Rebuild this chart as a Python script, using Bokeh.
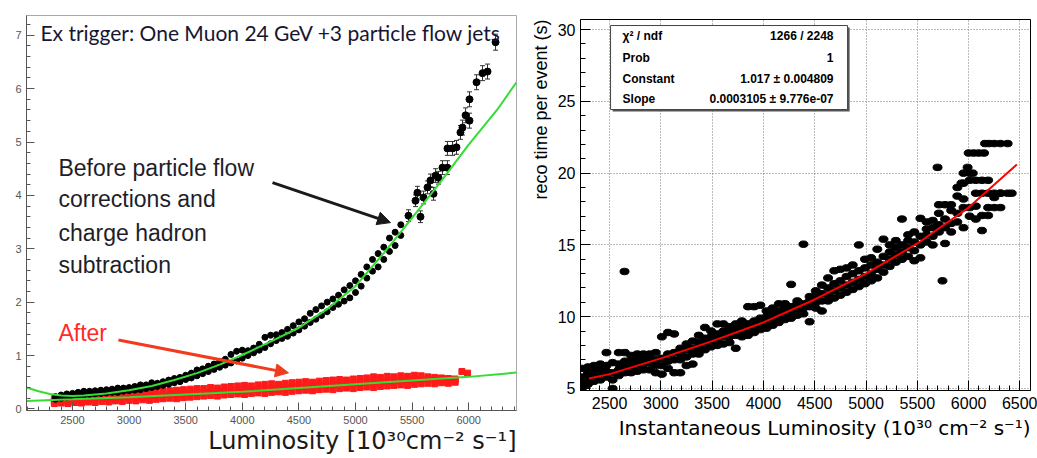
import math
from bokeh.plotting import figure
from bokeh.layouts import row
from bokeh.models import Range1d, Label, Arrow, NormalHead, FixedTicker, Title
from bokeh.embed import file_html
from bokeh.resources import INLINE

# ------------------------------------------------------------------ left panel data
left_x_ticks = [2500, 3000, 3500, 4000, 4500, 5000, 5500, 6000]
left_y_ticks = [0, 1, 2, 3, 4, 5, 6, 7]

# dense "before" band (two estimated edges per luminosity bin)
black_lumi = [2350, 2400, 2450, 2500, 2550, 2600, 2650, 2700, 2750, 2800,
              2850, 2900, 2950, 3000, 3050, 3100, 3150, 3200, 3250, 3300,
              3350, 3400, 3450, 3500, 3550, 3600, 3650, 3700, 3750, 3800,
              3850, 3900, 3950, 4000, 4050, 4100, 4150, 4200, 4250, 4300,
              4350, 4400, 4450, 4500, 4550, 4600, 4650, 4700, 4750, 4800,
              4850, 4900, 4950, 5000, 5050, 5100, 5150, 5200, 5250, 5300,
              5350, 5400]
black_time_low = [0.18, 0.20, 0.22, 0.24, 0.25, 0.26, 0.27, 0.28, 0.29, 0.30,
                  0.31, 0.31, 0.33, 0.34, 0.35, 0.36, 0.38, 0.40, 0.42, 0.44,
                  0.46, 0.49, 0.51, 0.55, 0.58, 0.62, 0.66, 0.70, 0.74, 0.78,
                  0.82, 0.86, 0.90, 0.95, 1.00, 1.05, 1.10, 1.15, 1.22, 1.28,
                  1.32, 1.36, 1.42, 1.48, 1.55, 1.62, 1.68, 1.75, 1.82, 1.90,
                  1.96, 2.02, 2.08, 2.18, 2.30, 2.45, 2.58, 2.66, 2.80, 2.95,
                  3.06, 3.25]
black_time_high = [0.23, 0.26, 0.28, 0.29, 0.31, 0.33, 0.33, 0.34, 0.35, 0.36,
                   0.37, 0.39, 0.39, 0.40, 0.42, 0.45, 0.45, 0.49, 0.48, 0.51,
                   0.54, 0.57, 0.59, 0.63, 0.67, 0.73, 0.75, 0.80, 0.84, 0.89,
                   0.93, 1.02, 1.08, 1.10, 1.09, 1.14, 1.21, 1.34, 1.38, 1.39,
                   1.43, 1.49, 1.56, 1.63, 1.69, 1.79, 1.86, 1.93, 2.00, 2.06,
                   2.13, 2.23, 2.31, 2.40, 2.52, 2.66, 2.80, 2.91, 3.03, 3.20,
                   3.31, 3.45]
black_band_err = 0.05

# separated high-luminosity "before" points with error bars
high_lumi = [5468, 5530, 5547, 5574, 5601, 5636, 5662, 5689, 5707, 5733, 5768, 5812,
             5812, 5857, 5892, 5927, 5945, 5972, 6007, 6007, 6069, 6122, 6166, 6237]
high_time = [3.62, 3.90, 4.05, 3.60, 3.96, 4.15, 4.28, 4.03, 4.37, 4.33, 4.52, 4.52,
             4.88, 4.88, 4.90, 5.18, 5.27, 5.50, 5.40, 5.80, 6.12, 6.29, 6.32, 6.87]
high_err = [0.11, 0.11, 0.12, 0.11, 0.12, 0.12, 0.12, 0.12, 0.13, 0.12, 0.13, 0.13,
            0.13, 0.13, 0.13, 0.13, 0.14, 0.14, 0.14, 0.14, 0.14, 0.14, 0.14, 0.15]

# "after" band (three estimated values per luminosity bin)
red_lumi = [2340, 2400, 2460, 2520, 2580, 2640, 2700, 2760, 2820, 2880,
            2940, 3000, 3060, 3120, 3180, 3240, 3300, 3360, 3420, 3480,
            3540, 3600, 3660, 3720, 3780, 3840, 3900, 3960, 4020, 4080,
            4140, 4200, 4260, 4320, 4380, 4440, 4500, 4560, 4620, 4680,
            4740, 4800, 4860, 4920, 4980, 5040, 5100, 5160, 5220, 5280,
            5340, 5400, 5460, 5520, 5580, 5640, 5700, 5760, 5820, 5880]
red_time_a = [0.10, 0.11, 0.10, 0.12, 0.11, 0.13, 0.12, 0.14, 0.13, 0.15,
              0.14, 0.16, 0.15, 0.17, 0.16, 0.18, 0.19, 0.20, 0.19, 0.21,
              0.22, 0.23, 0.24, 0.25, 0.24, 0.26, 0.27, 0.28, 0.27, 0.29,
              0.30, 0.29, 0.31, 0.32, 0.31, 0.33, 0.34, 0.35, 0.34, 0.36,
              0.37, 0.36, 0.38, 0.39, 0.38, 0.40, 0.41, 0.40, 0.42, 0.43,
              0.44, 0.45, 0.44, 0.46, 0.47, 0.48, 0.47, 0.49, 0.48, 0.50]
red_time_b = [0.15, 0.16, 0.15, 0.17, 0.16, 0.18, 0.18, 0.19, 0.20, 0.20,
              0.21, 0.22, 0.22, 0.23, 0.24, 0.25, 0.26, 0.27, 0.27, 0.28,
              0.29, 0.30, 0.31, 0.32, 0.32, 0.33, 0.34, 0.35, 0.35, 0.36,
              0.37, 0.38, 0.38, 0.39, 0.40, 0.41, 0.42, 0.42, 0.43, 0.44,
              0.45, 0.45, 0.46, 0.47, 0.47, 0.48, 0.49, 0.50, 0.50, 0.51,
              0.52, 0.53, 0.53, 0.54, 0.55, 0.55, 0.54, 0.55, 0.53, 0.54]
red_time_c = [0.19, 0.21, 0.20, 0.22, 0.21, 0.23, 0.24, 0.24, 0.26, 0.25,
              0.27, 0.28, 0.29, 0.30, 0.31, 0.32, 0.33, 0.34, 0.35, 0.36,
              0.37, 0.38, 0.38, 0.40, 0.39, 0.41, 0.42, 0.43, 0.44, 0.43,
              0.45, 0.46, 0.47, 0.46, 0.48, 0.49, 0.50, 0.51, 0.50, 0.52,
              0.53, 0.54, 0.55, 0.54, 0.56, 0.57, 0.58, 0.60, 0.59, 0.61,
              0.60, 0.62, 0.61, 0.63, 0.62, 0.60, 0.59, 0.58, 0.57, 0.56]
red_extra_lumi = [5940, 5990]
red_extra_time = [0.70, 0.67]
red_err = 0.05

# green fit curves
fit_before_lumi = [2094, 2200, 2300, 2400, 2500, 2600, 2800, 3000, 3200, 3400, 3600, 3800,
                   4000, 4250, 4500, 4750, 5000, 5250, 5500, 5750, 6000, 6250, 6422]
fit_before_time = [0.40, 0.33, 0.28, 0.25, 0.24, 0.25, 0.29, 0.35, 0.43, 0.54, 0.67, 0.83,
                   1.01, 1.26, 1.52, 1.87, 2.30, 2.92, 3.58, 4.25, 4.95, 5.60, 6.12]
fit_after_lumi = [2094, 2500, 3000, 3500, 4000, 4500, 5000, 5500, 6000, 6422]
fit_after_time = [0.15, 0.18, 0.22, 0.27, 0.32, 0.39, 0.46, 0.53, 0.60, 0.68]

# ------------------------------------------------------------------ right panel data
right_x_ticks = [2500, 3000, 3500, 4000, 4500, 5000, 5500, 6000, 6500]
right_y_ticks = [5, 10, 15, 20, 25, 30]

r_lumi = [2230, 2290, 2350, 2410, 2470, 2530, 2590, 2650, 2710, 2770,
          2830, 2890, 2950, 3010, 3070, 3130, 3190, 3250, 3310, 3370,
          3430, 3490, 3550, 3610, 3670, 3730, 3790, 3850, 3910, 3970,
          4030, 4090, 4150, 4210, 4270, 4330, 4390, 4450, 4510, 4570,
          4630, 4690, 4750, 4810, 4870, 4930, 4990, 5050, 5110, 5170,
          5230, 5290, 5350, 5410, 5470, 5530, 5590, 5650, 5710, 5770,
          5830, 5890, 5950, 6010, 6070, 6130, 6190, 6250, 6310]
r_t1 = [5.0, 5.3, 5.5, 5.6, 5.8, 5.0, 5.9, 6.1, 6.1, 6.2,
        6.3, 6.3, 6.1, 6.0, 6.4, 6.1, 6.1, 6.6, 6.7, 7.4,
        7.7, 7.9, 8.0, 8.1, 8.2, 7.8, 8.6, 8.7, 8.9, 9.1,
        9.2, 9.4, 9.6, 9.8, 9.9, 10.1, 10.2, 9.65, 10.6, 10.4,
        11.1, 11.3, 11.5, 11.7, 11.9, 12.1, 12.3, 12.5, 12.7, 13.1,
        13.5, 13.8, 14.0, 14.2, 13.9, 14.1, 15.2, 15.0, 15.9, 15.1,
        15.9, 16.6, 16.2, 17.0, 16.8, 16.0, 17.05, 17.6, 17.6]
r_t2 = [5.4, 5.7, 5.9, 6.0, 6.2, 5.6, 6.3, 6.5, 6.5, 6.6,
        6.7, 6.8, 6.6, 6.6, 6.9, 7.0, 7.0, 7.2, 7.4, 7.8,
        8.1, 8.3, 8.4, 8.6, 8.6, 8.7, 8.9, 9.1, 9.3, 9.5,
        9.6, 9.8, 10.0, 10.2, 10.3, 10.5, 10.6, 10.7, 11.0, 11.1,
        11.5, 11.8, 12.0, 12.2, 12.4, 12.6, 12.8, 13.0, 13.3, 13.6,
        14.0, 14.3, 14.5, 14.8, 14.6, 15.0, 15.7, 15.6, 16.4, 16.2,
        16.5, 17.2, 17.6, 17.6, 17.7, 17.05, 17.6, 18.3, 18.6]
r_t3 = [5.8, 6.1, 6.3, 6.4, 6.6, 6.1, 6.7, 6.9, 6.9, 7.0,
        7.1, 7.2, 7.0, 7.1, 7.4, 7.5, 7.4, 7.7, 7.8, 8.2,
        8.5, 8.6, 8.8, 9.0, 9.0, 9.1, 9.3, 9.5, 9.7, 9.9,
        10.0, 10.2, 10.4, 10.6, 10.7, 10.9, 10.9, 11.1, 11.4, 11.6,
        12.0, 12.3, 12.5, 12.8, 13.0, 13.2, 13.4, 13.6, 13.8, 14.2,
        14.5, 14.8, 15.0, 15.3, 15.2, 15.6, 16.1, 16.2, 17.2, 16.8,
        17.4, 18.4, 18.2, 19.5, 18.6, 18.6, 18.6, 18.6, 18.6]
r_t4 = [6.4, 6.5, 6.6, 6.7, 7.5, 6.8, 7.5, 7.5, 7.3, 7.4,
        7.4, 7.4, 7.5, 8.6, 8.9, 8.8, 7.8, 8.1, 8.3, 8.7,
        9.25, 9.0, 9.5, 9.5, 9.3, 9.5, 9.7, 10.7, 10.7, 10.8,
        10.4, 10.6, 10.9, 10.9, 12.25, 11.1, 15.05, 11.4, 11.8, 12.2,
        12.7, 13.2, 13.3, 13.4, 13.6, 15.0, 14.0, 14.1, 14.7, 15.4,
        15.0, 15.3, 16.8, 15.7, 15.9, 16.85, 16.6, 16.7, 17.8, 17.8,
        17.8, 19.0, 19.3, 20.0, 19.5, 19.5, 19.5, 22.06, 22.06]
r_extra_lumi = [2646, 5697, 5745, 5950, 5990, 6040, 6000, 6050, 6100, 6150,
                6160, 6200, 6380, 6380, 6420, 5930]
r_extra_time = [13.15, 20.4, 12.5, 20.0, 20.4, 20.0, 21.4, 21.4, 21.4, 21.4,
                22.06, 22.06, 22.06, 18.6, 18.6, 19.3]

expo_fit_lumi = [2300, 2500, 3000, 3500, 4000, 4500, 5000, 5500, 6000, 6470]
expo_fit_time = [5.7, 6.0, 7.1, 8.3, 9.6, 11.2, 13.0, 15.1, 17.6, 20.6]

stats_names = ["\u03c7\u00b2 / ndf", "Prob", "Constant", "Slope"]
stats_values = ["1266 / 2248", "1", "1.017 \u00b1 0.004809", "0.0003105 \u00b1 9.776e-07"]


def make_title(text, align, size, font, standoff, color="black"):
    try:
        return Title(text=text, align=align, text_font_size=size, text_font=font,
                     text_font_style="normal", text_color=color, standoff=standoff)
    except Exception:
        return Title(text=text, align=align, text_font_size=size, text_font=font,
                     text_font_style="normal", text_color=color, standoff=0)


# ------------------------------------------------------------------ left figure
GREEN = "#33dd33"
p1 = figure(width=518, height=458, x_range=Range1d(2094, 6422), y_range=Range1d(-0.03, 7.37),
            output_backend="svg", toolbar_location=None,
            min_border_left=26, min_border_right=2, min_border_top=15, min_border_bottom=48)
try:
    p1.frame_align = False
except Exception:
    pass
p1.xgrid.visible = False
p1.ygrid.visible = False
p1.outline_line_color = "#aaaaaa"
p1.background_fill_color = "white"
p1.xaxis.ticker = FixedTicker(ticks=left_x_ticks, minor_ticks=list(range(2100, 6500, 100)))
p1.yaxis.ticker = FixedTicker(ticks=left_y_ticks, minor_ticks=[i / 5 for i in range(0, 37)])
for ax in (p1.xaxis, p1.yaxis):
    ax.major_tick_in = 8
    ax.major_tick_out = 0
    ax.minor_tick_in = 4
    ax.minor_tick_out = 0
    ax.axis_line_color = "#555555"
    ax.major_tick_line_color = "#555555"
    ax.minor_tick_line_color = "#555555"
    ax.major_label_text_color = "#555555"
    ax.major_label_text_font = "Liberation Sans"
    ax.major_label_text_font_size = "11px"
    ax.major_label_standoff = 5

# after (red)
rx = red_lumi * 3 + red_extra_lumi
ry = red_time_a + red_time_b + red_time_c + red_extra_time
p1.segment(x0=rx, y0=[v - red_err for v in ry], x1=rx, y1=[v + red_err for v in ry],
           line_color="#ff1a1a", line_width=2)
p1.scatter(rx, ry, marker="square", size=6, color="#ff1a1a")

# before (black)
bx = black_lumi * 2
by = black_time_low + black_time_high
p1.segment(x0=bx, y0=[v - black_band_err for v in by], x1=bx, y1=[v + black_band_err for v in by],
           line_color="black", line_width=1.5)
p1.scatter(bx, by, marker="circle", size=6, color="black")
hlo = [v - e for v, e in zip(high_time, high_err)]
hhi = [v + e for v, e in zip(high_time, high_err)]
p1.segment(x0=high_lumi, y0=hlo, x1=high_lumi, y1=hhi, line_color="#333333", line_width=1)
p1.scatter(high_lumi, hlo, marker="dash", size=5, line_color="#333333")
p1.scatter(high_lumi, hhi, marker="dash", size=5, line_color="#333333")
p1.scatter(high_lumi, high_time, marker="circle", size=7, color="black")

# fits
p1.line(fit_after_lumi, fit_after_time, line_color=GREEN, line_width=2)
p1.line(fit_before_lumi, fit_before_time, line_color=GREEN, line_width=2)

# annotations
p1.add_layout(Label(x=2217, y=7.05, text="Ex trigger: One Muon 24 GeV +3 particle flow jets",
                    text_font="Lato", text_font_size="21px", text_color="#161633",
                    text_baseline="middle", text_align="left"))
for txt, yy in zip(["Before particle flow", "corrections and", "charge hadron", "subtraction"],
                   [4.52, 3.93, 3.30, 2.70]):
    p1.add_layout(Label(x=2376, y=yy, text=txt, text_font="Liberation Sans", text_font_size="23px",
                        text_color="#1e1e28", text_baseline="middle", text_align="left"))
p1.add_layout(Label(x=2376, y=1.43, text="After", text_font="Liberation Sans", text_font_size="23px",
                    text_color="#ff2a2a", text_baseline="middle", text_align="left"))
p1.add_layout(Arrow(end=NormalHead(size=13, fill_color="#1a1a1a", line_color="#1a1a1a"),
                    x_start=4267, y_start=4.24, x_end=5309, y_end=3.49,
                    line_color="#1a1a1a", line_width=3))
p1.add_layout(Arrow(end=NormalHead(size=13, fill_color="#f23a1e", line_color="#f23a1e"),
                    x_start=2906, y_start=1.29, x_end=4408, y_end=0.675,
                    line_color="#f23a1e", line_width=3))
p1.add_layout(make_title("Luminosity [10\u00b3\u2070cm\u207b\u00b2 s\u207b\u00b9]", "right", "24px",
                         "DejaVu Sans", -4, "#1a1a1a"), "below")

# ------------------------------------------------------------------ right figure
p2 = figure(width=519, height=458, x_range=Range1d(2217, 6603), y_range=Range1d(4.86, 30.7),
            output_backend="svg", toolbar_location=None,
            min_border_left=62, min_border_right=7, min_border_top=19, min_border_bottom=68)
try:
    p2.frame_align = False
except Exception:
    pass
p2.outline_line_color = "black"
xt = FixedTicker(ticks=right_x_ticks, minor_ticks=list(range(2300, 6600, 100)))
yt = FixedTicker(ticks=right_y_ticks, minor_ticks=list(range(5, 31)))
p2.xaxis.ticker = xt
p2.yaxis.ticker = yt
p2.xgrid.ticker = FixedTicker(ticks=right_x_ticks)
p2.ygrid.ticker = FixedTicker(ticks=right_y_ticks)
for g in (p2.xgrid, p2.ygrid):
    g.grid_line_color = "#777777"
    g.grid_line_dash = "1 2"
    g.grid_line_width = 1
for ax in (p2.xaxis, p2.yaxis):
    ax.major_tick_in = 10
    ax.major_tick_out = 0
    ax.minor_tick_in = 5
    ax.minor_tick_out = 0
    ax.axis_line_color = "black"
    ax.major_tick_line_color = "black"
    ax.minor_tick_line_color = "black"
    ax.major_label_text_color = "black"
    ax.major_label_text_font = "Liberation Sans"
    ax.major_label_text_font_size = "16px"
p2.xaxis.major_label_standoff = 6
p2.yaxis.major_label_standoff = 5

ex = r_lumi * 4 + r_extra_lumi
ey = r_t1 + r_t2 + r_t3 + r_t4 + r_extra_time
p2.ellipse(ex, ey, width=9, height=6.5, width_units="screen", height_units="screen",
           fill_color="black", line_color="black")
p2.line(expo_fit_lumi, expo_fit_time, line_color="red", line_width=2)

# stats box
p2.quad(left=[2530], right=[4840], bottom=[24.29], top=[30.14], fill_color="#555555", line_color=None)
p2.quad(left=[2510], right=[4820], bottom=[24.43], top=[30.28], fill_color="white", line_color="#444444",
        line_width=1)
for name, val, yy in zip(stats_names, stats_values, [29.58, 28.05, 26.59, 25.13]):
    p2.add_layout(Label(x=2627, y=yy, text=name, text_font="Liberation Sans", text_font_size="12px",
                        text_font_style="bold", text_baseline="middle", text_align="left",
                        text_color="black"))
    p2.add_layout(Label(x=4683, y=yy, text=val, text_font="Liberation Sans", text_font_size="12px",
                        text_font_style="bold", text_baseline="middle", text_align="right",
                        text_color="black"))

p2.add_layout(make_title("reco time per event (s)", "right", "18px", "Liberation Sans", 8), "left")
p2.add_layout(make_title("Instantaneous Luminosity (10\u00b3\u2070 cm\u207b\u00b2 s\u207b\u00b9)", "right",
                         "20px", "DejaVu Sans", 5), "below")

layout = row(p1, p2)
open("out.html", "w").write(file_html(layout, INLINE))
